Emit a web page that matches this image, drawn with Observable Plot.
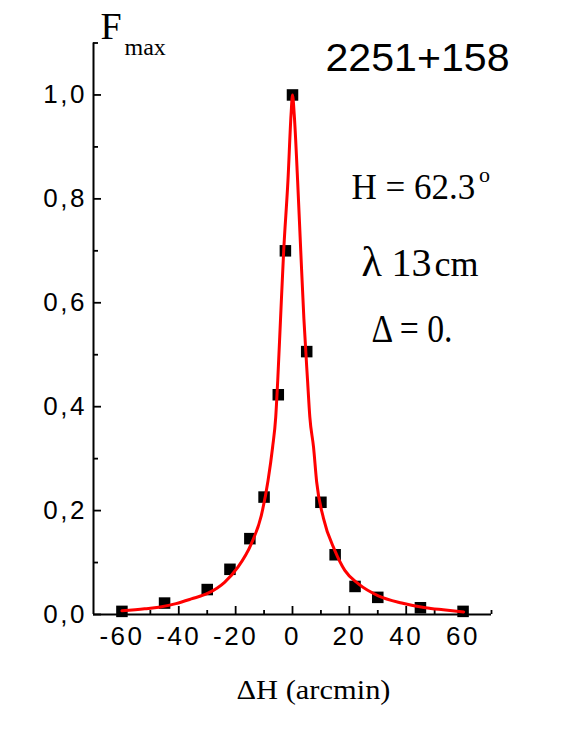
<!DOCTYPE html>
<html><head><meta charset="utf-8">
<script src="https://cdn.jsdelivr.net/npm/d3@7"></script>
<script src="https://cdn.jsdelivr.net/npm/@observablehq/plot@0.6"></script>
<style>
html,body{margin:0;padding:0;background:#fff;}
g[aria-label="x-axis tick label"] text, g[aria-label="y-axis tick label"] text {letter-spacing:2.5px;}
</style></head><body><div id="chart"></div>
<script>
// measured points (ΔH in arcmin, normalised Fmax)
const pointX = [-60, -45, -30, -22, -15, -10, -5, -2.5, 0, 5, 10, 15, 22, 30, 45, 60];
const pointF = [0.006, 0.022, 0.048, 0.087, 0.146, 0.226, 0.423, 0.70, 1.0, 0.506, 0.216, 0.115, 0.054, 0.033, 0.013, 0.006];
// fitted curve
const fitX = [-60, -52, -47, -41, -35.6, -29.7, -23.9, -19.2, -14.5, -11, -8.6, -7.0, -5.9, -5.2, -4.2, -3.1, -1.6, -0.5, 0, 0.6, 1.8, 2.9, 4.0, 5.3, 6.1, 7.4, 8.5, 10.9, 14.9, 18.4, 23.2, 30.2, 38.4, 46.7, 53, 60.2];
const fitF = [0.007, 0.011, 0.014, 0.021, 0.030, 0.041, 0.062, 0.091, 0.136, 0.19, 0.258, 0.322, 0.38, 0.45, 0.57, 0.70, 0.835, 0.963, 1.0, 0.963, 0.835, 0.70, 0.57, 0.45, 0.38, 0.322, 0.255, 0.185, 0.123, 0.085, 0.059, 0.036, 0.022, 0.013, 0.009, 0.005];
const xLabelTicks = [-60, -40, -20, 0, 20, 40, 60];
const xMinorTicks = [-50, -30, -10, 10, 30, 50, 70];
const yLabelTicks = [0, 0.2, 0.4, 0.6, 0.8, 1.0];
const yMinorTicks = [0.1, 0.3, 0.5, 0.7, 0.9, 1.1];
const xDomain = [-70, 70];
const yDomain = [0, 1.1];

const points = pointX.map((x, i) => ({x, f: pointF[i]}));
const fit = fitX.map((x, i) => ({x, f: fitF[i]}));

const W = 572, H = 740, ML = 93, MR = 81, MT = 42.5, MB = 126;
const SERIF = "Liberation Serif", SANS = "Liberation Sans";

function note(str, x, baseline, size, family) {
  return Plot.text([str], {
    text: d => d, frameAnchor: "top-left", dx: x - ML, dy: baseline - MT,
    fontSize: size, fontFamily: family, textAnchor: "start", lineAnchor: "bottom", fill: "black"
  });
}

const svg = Plot.plot({
  width: W, height: H,
  marginLeft: ML, marginRight: MR, marginTop: MT, marginBottom: MB,
  style: {fontFamily: SANS, color: "black", background: "white", overflow: "visible"},
  x: {domain: xDomain, label: null},
  y: {domain: yDomain, label: null},
  marks: [
    Plot.axisX(xLabelTicks, {tickSize: -8, tickFormat: () => "", strokeWidth: 1.8, label: null}),
    Plot.axisX(xMinorTicks, {tickSize: -4, tickFormat: () => "", strokeWidth: 1.8, label: null}),
    Plot.axisY(yLabelTicks, {tickSize: -8, tickFormat: () => "", strokeWidth: 1.8, label: null}),
    Plot.axisY(yMinorTicks, {tickSize: -5, tickFormat: () => "", strokeWidth: 1.8, label: null}),
    Plot.axisX(xLabelTicks, {tickSize: 0, tickPadding: 12.5, tickFormat: d => String(d), fontSize: 26, fontFamily: SANS, label: null}),
    Plot.axisY(yLabelTicks, {tickSize: 0, tickPadding: 6.5, tickFormat: d => d.toFixed(1).replace(".", ","), fontSize: 26, fontFamily: SANS, label: null}),
    Plot.ruleX([xDomain[0]], {stroke: "black", strokeWidth: 2}),
    Plot.ruleY([yDomain[0]], {stroke: "black", strokeWidth: 2}),
    Plot.dot(points, {x: "x", y: "f", symbol: "square", r: 6.5, fill: "black", stroke: null}),
    Plot.line(fit, {x: "x", y: "f", stroke: "#ff0000", strokeWidth: 3, curve: "monotone-x"}),
    note("F", 100, 38.3, 38, SERIF),
    note("max", 124, 54.3, 24, SERIF),
    note("2251+158", 325, 70, 38, SANS),
    note("H = 62.3", 351, 198.3, 35, SERIF),
    note("o", 478.5, 181.5, 22, SERIF),
    note("λ", 361, 275, 42, SERIF),
    note("13", 391, 275, 40, SERIF),
    note("cm", 434, 275, 36, SERIF),
    note("Δ = 0.", 371, 341.7, 39, SERIF),
    note("ΔH (arcmin)", 236, 698, 28, SERIF)
  ]
});

const fits = {"2251+158": 184, "Δ = 0.": 81, "ΔH (arcmin)": 154};
svg.querySelectorAll("text").forEach(t => {
  const w = fits[t.textContent];
  if (w) { t.setAttribute("textLength", w); t.setAttribute("lengthAdjust", "spacingAndGlyphs"); }
});
document.getElementById("chart").appendChild(svg);
</script></body></html>
